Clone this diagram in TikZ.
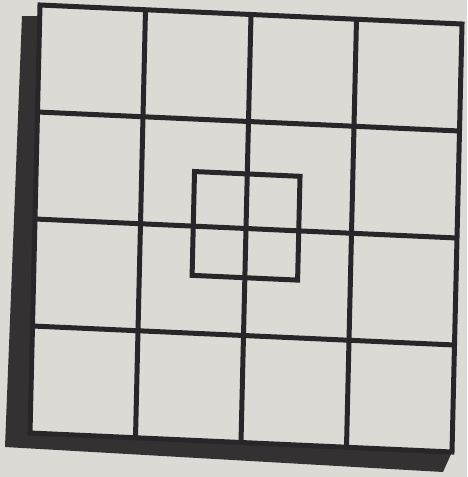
\documentclass[tikz,border=0pt]{standalone}
\definecolor{paper}{RGB}{219,218,213}
\definecolor{ink}{RGB}{40,38,40}
\definecolor{shadowcol}{RGB}{52,49,50}
\begin{document}
\begin{tikzpicture}[x=1pt,y=-1pt,
  gridline/.style={draw=ink, line width=5pt, line join=miter}]
\fill[paper] (0,0) rectangle (467,477);
\useasboundingbox (0,0) rectangle (467,477);
% shadow on the left and bottom
\fill[shadowcol] (22,16) -- (42,16) -- (452,452) -- (443,472) -- (5,447) -- cycle;
\begin{scope}[shift={(40,5)}, x={(105.5pt,-4.75pt)}, y={(-2.5pt,-107pt)}]
  \coordinate (tl) at (0,0);
  \coordinate (tr) at (4,0);
  \coordinate (br) at (4,4);
  \coordinate (bl) at (0,4);
  \fill[paper] (tl) -- (tr) -- (br) -- (bl) -- cycle;
  \foreach \i in {1,2,3} {
    \draw[gridline] (\i,0) -- (\i,4);
    \draw[gridline] (0,\i) -- (4,\i);
  }
  \draw[gridline] (tl) -- (tr) -- (br) -- (bl) -- cycle;
  \draw[gridline] (1.5,1.49) -- (2.5,1.49) -- (2.5,2.46) -- (1.5,2.46) -- cycle;
\end{scope}
\end{tikzpicture}
\end{document}
